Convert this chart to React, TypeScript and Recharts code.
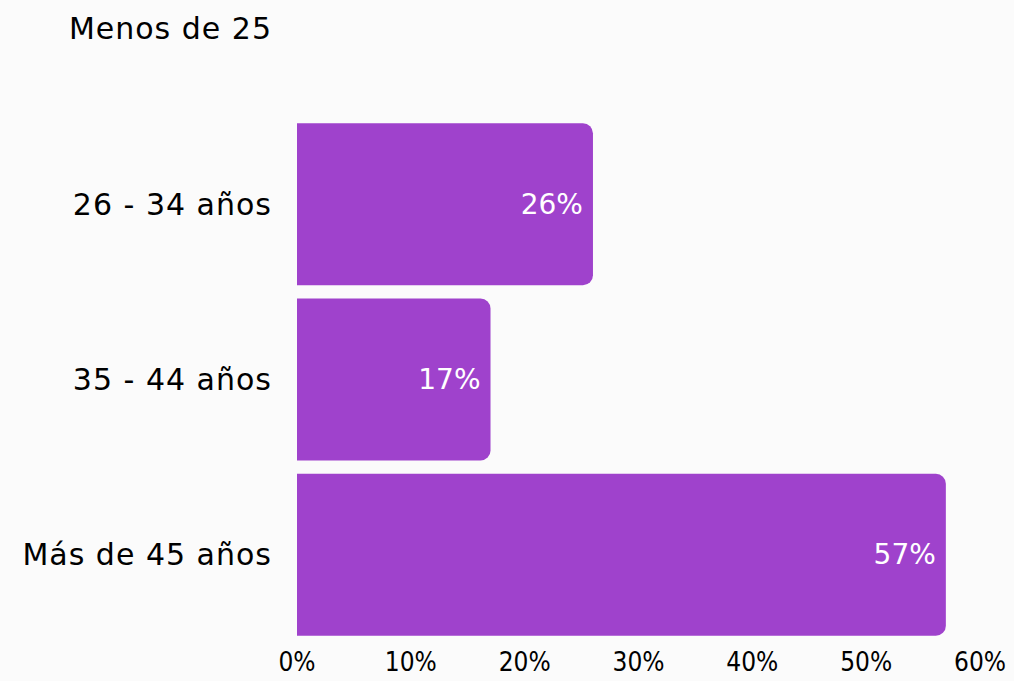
import { BarChart, Bar, XAxis, YAxis, LabelList } from "recharts";

const categorias = ["Menos de 25", "26 - 34 años", "35 - 44 años", "Más de 45 años"];
const porcentajes = [0, 26, 17, 57];
const ticksX = [0, 10, 20, 30, 40, 50, 60];

const datos = categorias.map((c, i) => ({ label: c, valor: porcentajes[i] }));

const fuente = "'DejaVu Sans', sans-serif";

function EtiquetaValor(props: any) {
  const { x, y, width, height, value } = props;
  if (!value) return null;
  return (
    <text
      x={x + width - 10}
      y={y + height / 2}
      fill="#ffffff"
      fontSize={28}
      fontFamily={fuente}
      textAnchor="end"
      dominantBaseline="central"
    >
      {`${value}%`}
    </text>
  );
}

export default function App() {
  return (
    <div
      style={{
        position: "fixed",
        top: 0,
        left: 0,
        width: 1014,
        height: 681,
        overflow: "hidden",
        background: "#fbfbfb",
      }}
    >
      <div style={{ marginTop: -59 }}>
        <BarChart
          width={1014}
          height={741}
          data={datos}
          layout="vertical"
          barSize={162}
          margin={{ top: 0, right: 34, left: 0, bottom: 0 }}
        >
          <XAxis
            type="number"
            domain={[0, 60]}
            ticks={ticksX}
            tickFormatter={(v) => `${v}%`}
            axisLine={false}
            tickLine={false}
            tickMargin={5}
            height={40}
            interval={0}
            tick={{ fontSize: 26, fill: "#000", fontFamily: "'Liberation Sans Narrow', 'DejaVu Sans Condensed', sans-serif" }}
          />
          <YAxis
            type="category"
            dataKey="label"
            width={297}
            axisLine={false}
            tickLine={false}
            tickMargin={19}
            interval={0}
            tick={{ fontSize: 30, fill: "#000", fontFamily: fuente, letterSpacing: 1 }}
          />
          <Bar dataKey="valor" fill="#9f42cc" radius={[0, 10, 10, 0]} isAnimationActive={false}>
            <LabelList dataKey="valor" content={EtiquetaValor} />
          </Bar>
        </BarChart>
      </div>
    </div>
  );
}
